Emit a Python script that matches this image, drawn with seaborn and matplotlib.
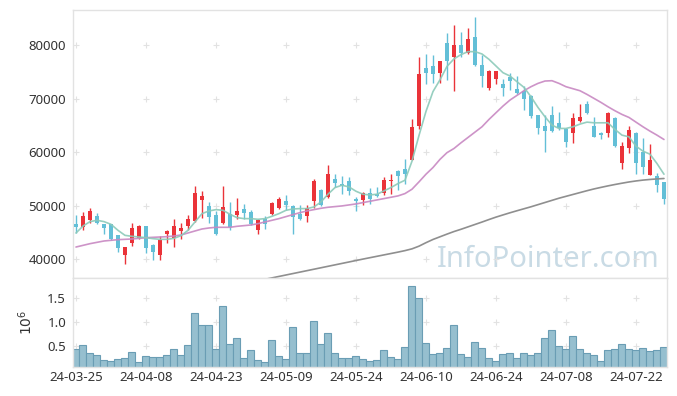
import numpy as np
import pandas as pd
import seaborn as sns
import matplotlib.pyplot as plt
from matplotlib.ticker import FuncFormatter

# trading days (KRX holidays removed)
start_date = '2024-03-25'
end_date = '2024-07-26'
holidays = ['2024-04-10', '2024-05-01', '2024-05-06', '2024-05-15', '2024-06-06']

open_ = [46530, 46030, 47280, 48025, 46530, 46530, 44475, 40730, 43040, 43975,
         46155, 42730, 40730, 44785, 43975, 45285, 46155, 47150, 51020, 49895,
         48210, 46780, 48400, 48210, 49335, 48775, 45405, 47465, 48400, 49585,
         50830, 49895, 48400, 48085, 50830, 52885, 51640, 55070, 54010, 54570,
         51330, 51020, 52450, 52265, 52390, 54630, 56440, 56940, 58620, 64855,
         75640, 76075, 74825, 80435, 77820, 80000, 78445, 81560, 76260, 71900,
         73645, 72710, 74080, 71710, 71400, 70465, 66910, 64855, 66910, 65355,
         64230, 63480, 65850, 68905, 64855, 63610, 63480, 66415, 58060, 60680,
         63610, 60055, 55815, 55505, 54445]
close = [46030, 48025, 48960, 46780, 45780, 43725, 42105, 42230, 45905, 46280,
         42105, 41355, 43540, 45285, 46280, 45780, 47465, 52450, 51765, 47900,
         44785, 49710, 46030, 48960, 48650, 46530, 47280, 46655, 50520, 51205,
         50080, 47900, 47465, 49520, 54630, 50145, 55880, 54260, 53700, 52765,
         50830, 52450, 51205, 51830, 54880, 54880, 55505, 56005, 64605, 74580,
         74700, 74580, 77010, 77010, 80000, 78445, 81120, 76260, 74205, 75140,
         75140, 72020, 73330, 71090, 69900, 66725, 64545, 63920, 63920, 64420,
         61925, 66290, 66600, 67350, 62860, 63170, 67225, 61175, 61115, 64105,
         58000, 57250, 58495, 53945, 51205]
high = [48210, 48835, 49645, 48710, 46530, 46600, 44600, 42355, 46840, 46400,
        46280, 42800, 44410, 45405, 47590, 46840, 48335, 53760, 52825, 50645,
        49020, 53635, 50705, 51515, 50395, 49270, 47465, 48085, 50705, 51640,
        52075, 50080, 50080, 50210, 54945, 53200, 57560, 56005, 55505, 55380,
        51640, 52575, 53385, 53510, 55380, 56005, 56750, 58810, 66165, 77695,
        78255, 78130, 77100, 82180, 83740, 82370, 83115, 85300, 78130, 75325,
        75200, 73580, 74700, 74205, 72395, 70650, 67000, 66910, 68595, 67535,
        64420, 67350, 68905, 69590, 66475, 63795, 67410, 66500, 61925, 64915,
        63700, 62670, 61425, 56130, 54500]
low = [44970, 45405, 46840, 46530, 44785, 43600, 41355, 39175, 42480, 43725,
       41230, 39800, 39860, 43100, 42290, 43850, 45405, 46965, 47775, 46780,
       44600, 46530, 45530, 47465, 47465, 46400, 44785, 45655, 48210, 49335,
       49270, 44785, 47280, 46965, 49645, 50000, 51455, 53510, 52140, 51950,
       49020, 50210, 50395, 51700, 52075, 52265, 52885, 54135, 58500, 64230,
       72645, 72835, 72835, 73455, 71400, 77820, 78255, 76100, 72210, 71585,
       72645, 70525, 71585, 70775, 67845, 66290, 63475, 60055, 63800, 64105,
       60865, 61615, 65540, 67200, 62735, 62425, 62860, 60990, 56940, 59745,
       55880, 56005, 55700, 52575, 50395]

ma5 = [44910, 46200, 47030, 47280, 47030, 46530, 45405, 44470, 44285, 44160,
       44035, 43850, 43725, 43725, 43910, 44410, 45405, 46965, 48525, 49020,
       49270, 49145, 48400, 47775, 47590, 47590, 47465, 47590, 48025, 48525,
       49145, 49395, 49460, 49460, 49770, 50705, 52140, 53385, 53820, 53510,
       52700, 52140, 52015, 52140, 52765, 53385, 54135, 54755, 58300, 63100,
       67600, 71300, 73500, 76000, 77400, 78200, 78755, 78755, 78320, 77320,
       76075, 74825, 74205, 73145, 72085, 70340, 68345, 66600, 65040, 64420,
       64420, 64730, 65230, 65600, 65475, 65475, 65475, 64230, 63170, 62860,
       61115, 60180, 59620, 57875, 55880]
ma20 = [42290, 42600, 42915, 43165, 43415, 43540, 43665, 43725, 43790, 43910,
        44035, 44100, 44160, 44225, 44350, 44535, 44910, 45285, 45655, 45845,
        45970, 45970, 45970, 46155, 46280, 46405, 46655, 46965, 47280, 47590,
        47965, 48340, 48710, 49020, 49270, 49520, 49710, 49835, 49960, 50145,
        50330, 50580, 50830, 51080, 51330, 51580, 51830, 52265, 53075, 54445,
        55880, 57125, 58650, 59900, 60680, 61740, 62735, 63735, 64730, 66100,
        67350, 68595, 69715, 70590, 71460, 72210, 72830, 73270, 73330, 72830,
        72210, 71835, 71460, 70775, 70030, 69280, 68470, 67720, 67035, 66475,
        65600, 64730, 63920, 63170, 62360]
ma_long = [np.nan] * 27 + [
    36260, 36530, 36800,
    37070, 37340, 37610, 37880, 38150, 38420, 38690, 38960, 39230, 39500,
    39770, 40040, 40300, 40560, 40820, 41080, 41340, 41620, 41950, 42450,
    43100, 43700, 44200, 44700, 45180, 45600, 46050, 46500, 46950, 47420,
    47870, 48280, 48680, 49060, 49430, 49800, 50200, 50600, 51000, 51400,
    51750, 52100, 52450, 52800, 53130, 53420, 53700, 53960, 54200, 54430,
    54620, 54780, 54900, 55000, 55080]

volume = [440000, 520000, 360000, 320000, 210000, 190000, 235000, 255000, 380000, 170000,
          300000, 280000, 280000, 320000, 440000, 320000, 520000, 1190000, 940000, 940000,
          440000, 1340000, 550000, 670000, 260000, 420000, 210000, 170000, 630000, 300000,
          235000, 895000, 360000, 360000, 1020000, 550000, 780000, 360000, 250000, 250000,
          290000, 230000, 190000, 210000, 420000, 270000, 230000, 480000, 1760000, 1500000,
          560000, 330000, 370000, 460000, 940000, 330000, 270000, 580000, 460000, 250000,
          190000, 330000, 350000, 250000, 350000, 310000, 370000, 670000, 830000, 500000,
          440000, 710000, 440000, 370000, 310000, 190000, 420000, 440000, 540000, 440000,
          420000, 460000, 400000, 420000, 480000]

price_ticks = [40000, 50000, 60000, 70000, 80000]
volume_ticks = [500000, 1000000, 1500000]

dates = pd.bdate_range(start_date, end_date).drop(pd.to_datetime(holidays))
idx = np.arange(len(dates))
o = np.array(open_, dtype=float)
c = np.array(close, dtype=float)

sns.set_theme(style='white')
plt.rcParams['font.family'] = ['Noto Sans', 'DejaVu Sans']

red, blue = '#ea3339', '#63bfd7'
fig = plt.figure(figsize=(6.77, 3.96), dpi=100)
ax = fig.add_axes([0.1078, 0.298, 0.8774, 0.6768])
axv = fig.add_axes([0.1078, 0.0725, 0.8774, 0.2255])

ax.text(0.988, 0.042, 'InfoPointer.com', transform=ax.transAxes, ha='right', va='baseline',
        fontsize=21, color='#c9dbe5', zorder=0)

# grid shown as small crosses
gx, gy = np.meshgrid(idx[::10], price_ticks)
ax.scatter(gx.ravel(), gy.ravel(), marker='+', s=16, color='#e2e2e2', linewidths=0.8, zorder=1)
gx, gy = np.meshgrid(idx[::10], volume_ticks)
axv.scatter(gx.ravel(), gy.ravel(), marker='+', s=16, color='#e2e2e2', linewidths=0.8, zorder=0)

colors = np.where(c >= o, red, blue)
ax.vlines(idx, low, high, colors=colors, lw=1, zorder=2)
ax.bar(idx, np.maximum(np.abs(c - o), 150), bottom=np.minimum(o, c), width=0.7,
       color=colors, linewidth=0, zorder=3)

sns.lineplot(x=idx, y=ma_long, ax=ax, color='#8f8f8f', lw=1.2, zorder=4)
sns.lineplot(x=idx, y=ma20, ax=ax, color='#c888c2', lw=1.2, alpha=0.9, zorder=4)
sns.lineplot(x=idx, y=ma5, ax=ax, color='#8ccab9', lw=1.2, alpha=0.9, zorder=4)

sns.barplot(x=idx, y=volume, ax=axv, color='#96bfcf', saturation=1, width=1.0,
            edgecolor='#6a9db4', linewidth=0.8, zorder=2)

for a in (ax, axv):
    a.set_xlim(-0.43, len(idx) - 1 + 0.43)
    a.set_xticks(idx[::10])
    a.set_xlabel('')
    a.tick_params(length=0, labelsize=9.5, labelcolor='#333333')
    for s in a.spines.values():
        s.set_color('#e2e2e2')
        s.set_linewidth(1)

ax.set_ylim(36510, 86530)
ax.set_yticks(price_ticks)
ax.set_xticklabels([])
ax.set_ylabel('')
ax.tick_params(axis='y', pad=5)

axv.set_ylim(62500, 1923000)
axv.set_yticks(volume_ticks)
axv.yaxis.set_major_formatter(FuncFormatter(lambda v, p: f'{v / 1e6:.1f}'))
axv.set_xticklabels(dates[::10].strftime('%y-%m-%d'))
axv.tick_params(axis='y', pad=5)
axv.tick_params(axis='x', pad=3)
axv.set_ylabel(r'$10^6$', fontsize=10, color='#333333', labelpad=8)

fig.savefig('out.png', dpi=100)
